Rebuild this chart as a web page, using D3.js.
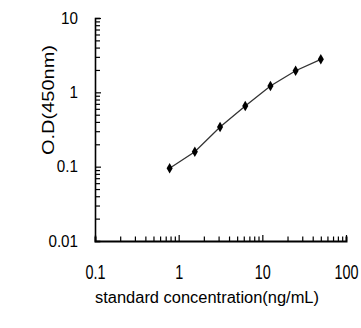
<!DOCTYPE html>
<html><head><meta charset="utf-8">
<script src="https://cdn.jsdelivr.net/npm/d3@7"></script>
<style>body{margin:0;background:#fff}svg{display:block}text{font-family:"Liberation Sans",Arial,sans-serif;fill:#000}</style>
</head><body><svg id="c" width="361" height="328"></svg>
<script>
const concentrations = [0.78, 1.56, 3.125, 6.25, 12.5, 25, 50];
const odValues = [0.095, 0.159, 0.341, 0.654, 1.216, 1.95, 2.78];
const xTickLabels = [0.1, 1, 10, 100];
const yTickLabels = [0.01, 0.1, 1, 10];
const xTitle = "standard concentration(ng/mL)";
const yTitle = "O.D(450nm)";

const svg = d3.select("#c");
const x = d3.scaleLog().domain([0.1, 100]).range([95, 346]);
const y = d3.scaleLog().domain([0.01, 10]).range([241, 18]);

function logTicks(lo, hi) {
  const out = [];
  for (let d = lo; d < hi; d *= 10) for (let k = 1; k < 10; k++) out.push(+(d * k).toPrecision(3));
  out.push(hi);
  return out;
}
const isMajor = v => Math.abs(Math.log10(v) - Math.round(Math.log10(v))) < 1e-9;

// X axis
const gx = svg.append("g").attr("transform", `translate(0,${y(0.01)})`)
  .call(d3.axisBottom(x).tickValues(logTicks(0.1, 100)).tickSizeOuter(0).tickSize(-4.5).tickPadding(38)
    .tickFormat(d => xTickLabels.includes(d) ? String(d) : ""));
gx.select(".domain").attr("stroke", "#000").attr("stroke-width", 2);
gx.selectAll(".tick line").attr("stroke", "#000").attr("stroke-width", 1.2)
  .attr("y2", d => isMajor(d) ? -6 : -4.5);
gx.selectAll(".tick text").attr("font-size", 16).attr("y", 0).attr("dy", 0)
  .attr("transform", "translate(0,38) scale(0.9,1.3)");

// Y axis
const gy = svg.append("g").attr("transform", `translate(${x(0.1)},0)`)
  .call(d3.axisLeft(y).tickValues(logTicks(0.01, 10)).tickSizeOuter(0).tickSize(-5).tickPadding(17)
    .tickFormat(d => yTickLabels.includes(d) ? String(d) : ""));
gy.select(".domain").attr("stroke", "#000").attr("stroke-width", 1.6);
gy.selectAll(".tick line").attr("stroke", "#000").attr("stroke-width", 1.2)
  .attr("x2", d => isMajor(d) ? 6 : 5);
gy.selectAll(".tick text").attr("font-size", 16)
  .each(function(){ const w = this.getComputedTextLength(); if (w > 0) { d3.select(this).attr("textLength", w * 0.95).attr("lengthAdjust", "spacingAndGlyphs"); }});

// Line and markers
const line = d3.line().x((d, i) => x(concentrations[i])).y(d => y(d));
svg.append("path").datum(odValues).attr("d", line)
  .attr("fill", "none").attr("stroke", "#333").attr("stroke-width", 1.3);
svg.append("g").selectAll("path").data(odValues).join("path")
  .attr("transform", (d, i) => `translate(${x(concentrations[i])},${y(d)})`)
  .attr("d", d3.symbol(d3.symbolDiamond, 32)())
  .attr("fill", "#000");

// Titles
svg.append("text").attr("x", 207).attr("y", 302.5).attr("text-anchor", "middle")
  .attr("font-size", 16).attr("textLength", 224).attr("lengthAdjust", "spacingAndGlyphs").text(xTitle);
svg.append("text").attr("transform", "translate(54,100) rotate(-90)").attr("text-anchor", "middle")
  .attr("font-size", 16).attr("textLength", 110).attr("lengthAdjust", "spacingAndGlyphs").text(yTitle);
</script></body></html>
